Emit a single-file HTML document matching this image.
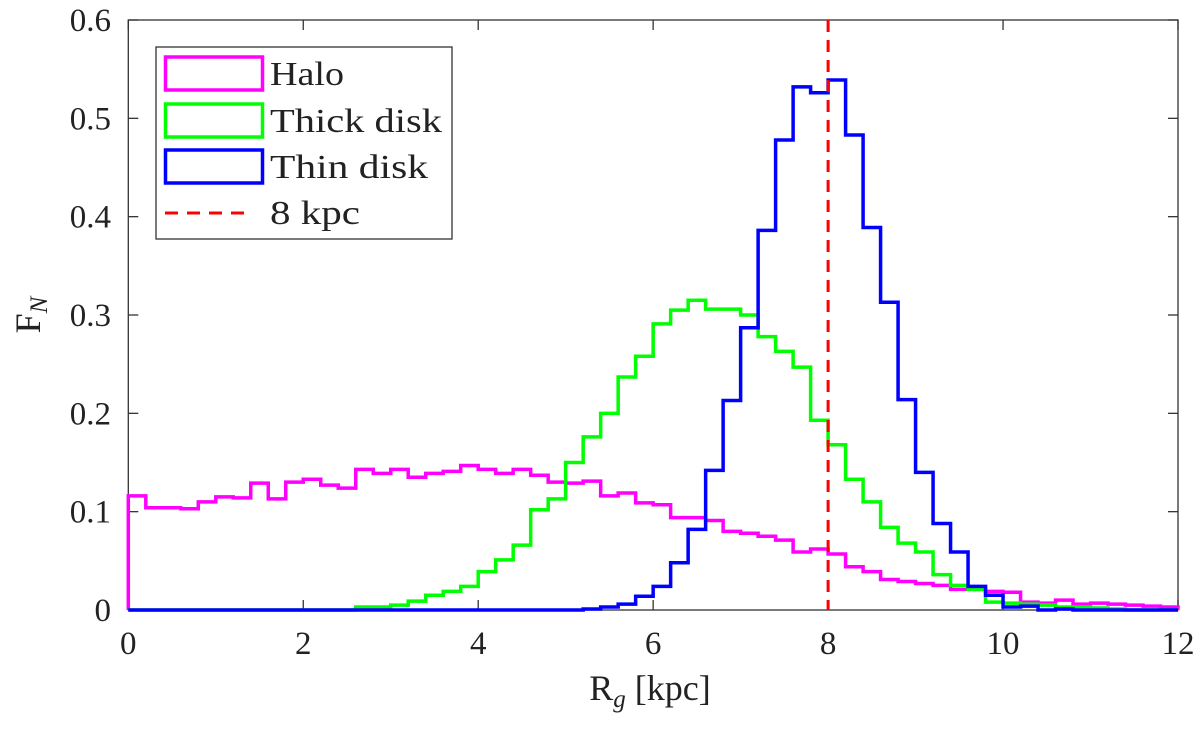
<!DOCTYPE html>
<html><head><meta charset="utf-8"><style>
body{margin:0;background:#fff;}
svg text{font-family:"Liberation Serif",serif;fill:#222;}
</style></head><body>
<svg width="1200" height="733" viewBox="0 0 1200 733" xmlns="http://www.w3.org/2000/svg">
<g id="plot"></g>
</svg>
<script>
const binEdges0 = 0, binWidth = 0.2;
const haloValues = [0.116,0.104,0.104,0.103,0.110,0.115,0.114,0.129,0.113,0.130,0.133,0.127,0.124,0.143,0.139,0.143,0.135,0.139,0.141,0.147,0.143,0.139,0.143,0.137,0.130,0.129,0.131,0.116,0.119,0.109,0.107,0.094,0.094,0.091,0.080,0.078,0.075,0.071,0.059,0.062,0.057,0.044,0.039,0.031,0.029,0.027,0.025,0.021,0.021,0.019,0.018,0.008,0.007,0.010,0.006,0.007,0.006,0.005,0.004,0.003];
const thickValues = [0,0,0,0,0,0,0,0,0,0,0,0,0,0.003,0.003,0.005,0.009,0.015,0.019,0.024,0.039,0.051,0.066,0.102,0.113,0.150,0.176,0.200,0.237,0.258,0.291,0.305,0.315,0.306,0.306,0.300,0.278,0.263,0.247,0.193,0.168,0.133,0.110,0.084,0.068,0.059,0.036,0.025,0.021,0.008,0.007,0.006,0.005,0.003,0.003,0.002,0.001,0,0,0];
const thinValues = [0,0,0,0,0,0,0,0,0,0,0,0,0,0,0,0,0,0,0,0,0,0,0,0,0,0,0.001,0.003,0.006,0.014,0.024,0.048,0.082,0.142,0.213,0.287,0.386,0.478,0.532,0.526,0.539,0.483,0.389,0.313,0.214,0.140,0.088,0.059,0.024,0.015,0.003,0.004,0,0.001,0,0,0,0,0,0];
const xTicks = [0,2,4,6,8,10,12];
const yTicks = [0,0.1,0.2,0.3,0.4,0.5,0.6];
const refLine = 8;

const X0=128.3,X1=1178,Y0=610,Y1=20;
const xs=v=>X0+(v-0)/12*(X1-X0);
const ys=v=>Y0-(v/0.6)*(Y0-Y1);
const NS="http://www.w3.org/2000/svg";
const g=document.getElementById('plot');
function mk(t,a){const e=document.createElementNS(NS,t);for(const k in a)e.setAttribute(k,a[k]);g.appendChild(e);return e;}

let box=mk('rect',{x:X0,y:Y1,width:X1-X0,height:Y0-Y1,fill:'none',stroke:'#333','stroke-width':1.3});



xTicks.forEach(t=>{
  const x=xs(t);
  let l=mk('line',{x1:x,x2:x,y1:Y0,y2:Y0-10,stroke:'#333','stroke-width':1.3});
  
  
  let l2=mk('line',{x1:x,x2:x,y1:Y1,y2:Y1+10,stroke:'#333','stroke-width':1.3});
  
  
  let tx=mk('text',{x:x,y:Y0+44,'text-anchor':'middle','font-size':33});
  tx.textContent=t;
  
  
});
yTicks.forEach(t=>{
  const y=ys(t);
  let l=mk('line',{x1:X0,x2:X0+10,y1:y,y2:y,stroke:'#333','stroke-width':1.3});
  
  
  let l2=mk('line',{x1:X1,x2:X1-10,y1:y,y2:y,stroke:'#333','stroke-width':1.3});
  
  
  let tx=mk('text',{x:111,y:y+11,'text-anchor':'end','font-size':33});
  tx.textContent=t===0?'0':t.toFixed(1);
  
  
});

function stairs(vals,color,name){
  let d='M'+xs(binEdges0)+','+ys(0);
  vals.forEach((v,i)=>{
    const a=xs(binEdges0+i*binWidth),b=xs(binEdges0+(i+1)*binWidth);
    d+=' L'+a+','+ys(v)+' L'+b+','+ys(v);
  });
  d+=' L'+xs(binEdges0+vals.length*binWidth)+','+ys(0);
  let p=mk('path',{d:d,fill:'none',stroke:color,'stroke-width':3.5,'stroke-linejoin':'miter'});
  
  
}
stairs(haloValues,'#ff00ff','halo-series');
stairs(thickValues,'#00ff00','thick-disk-series');
stairs(thinValues,'#0000ff','thin-disk-series');

let rl=mk('line',{x1:xs(refLine),x2:xs(refLine),y1:Y1,y2:Y0,stroke:'#ff0000','stroke-width':3,'stroke-dasharray':'12,8'});



let lb=mk('rect',{x:156,y:47,width:296,height:192,fill:'#fff',stroke:'#333','stroke-width':1.3});


const legNames=['Halo','Thick disk','Thin disk'];
const legColors=['#ff00ff','#00ff00','#0000ff'];
const legY=[57,104,150];
legNames.forEach((n,i)=>{
  let r=mk('rect',{x:165.5,y:legY[i],width:97,height:33,fill:'none',stroke:legColors[i],'stroke-width':3.5});
  
  
  let t=mk('text',{x:270,y:legY[i]+28,'font-size':34,textLength:n==='Halo'?74:(n==='Thick disk'?172:158),lengthAdjust:'spacingAndGlyphs'});
  t.textContent=n;
  
  
});
let ld=mk('line',{x1:165,x2:253,y1:213,y2:213,stroke:'#ff0000','stroke-width':3,'stroke-dasharray':'13,9'});


let lt=mk('text',{x:270,y:224,'font-size':34,textLength:90,lengthAdjust:'spacingAndGlyphs'});
lt.textContent='8 kpc';



let xt=mk('text',{x:650,y:700,'text-anchor':'middle','font-size':36});
xt.innerHTML='R<tspan font-style="italic" font-size="25" dy="7">g</tspan><tspan dy="-7"> [kpc]</tspan>';


let yt=mk('text',{x:0,y:0,'text-anchor':'middle','font-size':36,transform:'translate(40,315) rotate(-90)'});
yt.innerHTML='F<tspan font-style="italic" font-size="25" dy="7">N</tspan>';


</script>
</body></html>
